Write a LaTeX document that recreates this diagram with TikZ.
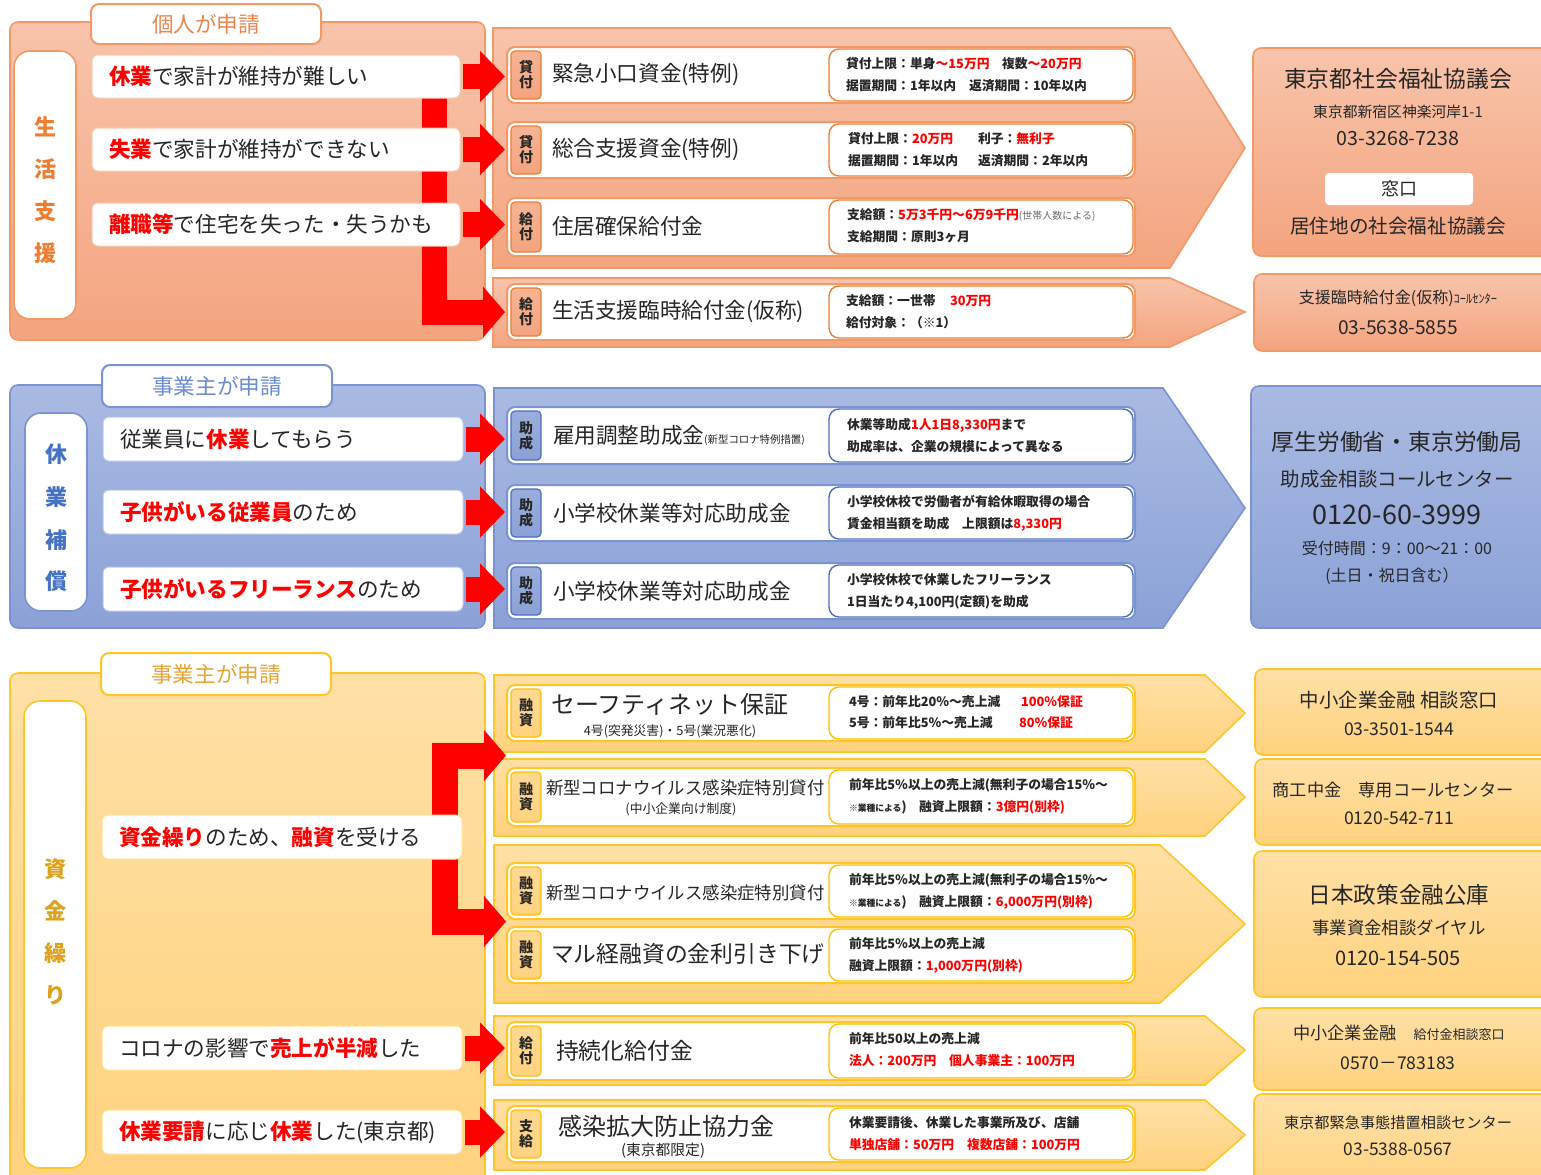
\documentclass[tikz,border=0pt]{standalone}
\usepackage{fontspec}
\setmainfont{Noto Sans CJK JP}
\usetikzlibrary{arrows.meta,fit}
\definecolor{tx}{HTML}{262626}
\definecolor{rd}{HTML}{FF0000}
\definecolor{gy}{HTML}{6B6B6B}
\definecolor{oTop}{HTML}{F8C4AB}
\definecolor{oBot}{HTML}{F4A47F}
\definecolor{oLine}{HTML}{F19A68}
\definecolor{oDark}{HTML}{ED7D31}
\definecolor{oText}{HTML}{E8864F}
\definecolor{bTop}{HTML}{AABAE2}
\definecolor{bBot}{HTML}{8BA1D7}
\definecolor{bLine}{HTML}{7B94D0}
\definecolor{bDark}{HTML}{4A6FBF}
\definecolor{bText}{HTML}{6A8CCF}
\definecolor{bVert}{HTML}{4472C4}
\definecolor{yTop}{HTML}{FFE0A6}
\definecolor{yBot}{HTML}{FFD27E}
\definecolor{yLine}{HTML}{FFC62A}
\definecolor{yDark}{HTML}{FFC000}
\definecolor{yText}{HTML}{E6A437}
\definecolor{yVert}{HTML}{DDA21C}
\newcommand\fsz[1]{\fontsize{#1pt}{#1pt}\selectfont}
\newcommand\mkbox[6]{\node[fit={(#3,#4)(#5,#6)},#2] (#1) {};}
\newcommand\redt[1]{\textcolor{rd}{#1}}
\newcommand\mkitem[5]{%
  \mkbox{#1}{itembox=#2}{507}{#3}{1135}{#4}%
  \mkbox{#1b}{badge=#2}{511}{#3+4}{541}{#4-4}%
  \node[bdgtxt] (#1bt) at (#1b.center) {#5};%
  \mkbox{#1d}{detbox=#2}{829}{#3+2}{1133}{#4-2}}
\tikzset{
  every node/.style={inner sep=0pt,outer sep=0pt},
  panel/.style={draw=#1Line,line width=0.8pt,rounded corners=4pt,top color=#1Top,bottom color=#1Bot},
  chev/.style={draw=#1Line,line width=0.8pt,top color=#1Top,bottom color=#1Bot},
  tab/.style={draw=#1Line,line width=1pt,fill=white,rounded corners=4pt},
  vbox/.style={draw=#1Line,line width=0.8pt,fill=white,rounded corners=8pt},
  rowbox/.style={draw=#1Line!50,line width=0.5pt,fill=white,rounded corners=3pt},
  itembox/.style={draw=#1Line,line width=1pt,fill=white,rounded corners=4pt},
  badge/.style={draw=#1Dark,line width=0.6pt,top color=#1Top!50!#1Bot,bottom color=#1Bot,rounded corners=2pt},
  detbox/.style={draw=#1Dark,line width=0.7pt,fill=white,rounded corners=5pt},
  wbox/.style={fill=white,rounded corners=2pt},
  rowtxt/.style={anchor=west,text=tx,font=\fsz{10.8}},
  ttl/.style={anchor=west,text=tx,font=\fsz{10.8}},
  det/.style={anchor=west,text=tx,font=\fsz{6.4}\bfseries},
  bdgtxt/.style={text=tx,font=\fontsize{7pt}{7.6pt}\selectfont\bfseries,align=center},
  vch/.style={font=\fsz{11}\bfseries,text=#1},
  tabtxt/.style={font=\fsz{10.8},text=#1},
  ctr/.style={text=tx,font=\fsz{#1}},
  redarrow/.style={draw=rd,line width=12.5pt,-{Triangle[length=12.5pt,width=25pt]},shorten <=1.5pt,shorten >=1pt},
  redconn/.style={draw=rd,line width=12.5pt,line join=miter,-{Triangle[length=11pt,width=25pt]}},
}
\begin{document}
\begin{tikzpicture}[x=0.5pt,y=-0.5pt]
\useasboundingbox (0,0) rectangle (1541,1174);
\clip (0,0) rectangle (1541,1174);
\fill[white] (0,0) rectangle (1541,1174);

% ================= section 1 =================
\mkbox{pA}{panel=o}{10}{22}{485}{340}
\mkbox{tabA}{tab=o}{91}{4}{321}{44}
\node[tabtxt=oText] (tabAt) at (tabA.center) {個人が申請};
\mkbox{vA}{vbox=o}{14}{51}{76}{319}
\node[vch=oDark] (vA1) at (45,127) {生};
\node[vch=oDark] (vA2) at (45,169) {活};
\node[vch=oDark] (vA3) at (45,211) {支};
\node[vch=oDark] (vA4) at (45,253) {援};

\path[chev=o] (493,28) -- (1170,28) -- (1245,148) -- (1170,268) -- (493,268) -- cycle;
\path[chev=o] (493,278) -- (1170,278) -- (1245,312) -- (1170,347) -- (493,347) -- cycle;

\mkitem{iA1}{o}{47}{103}{貸\\付}
\mkitem{iA2}{o}{122}{178}{貸\\付}
\mkitem{iA3}{o}{198}{256}{給\\付}
\mkitem{iA4}{o}{284}{340}{給\\付}
\node[ttl] (tA1) at (552,75) {緊急小口資金(特例)};
\node[ttl] (tA2) at (552,150) {総合支援資金(特例)};
\node[ttl] (tA3) at (552,226) {住居確保給付金};
\node[ttl] (tA4) at (552,312) {生活支援臨時給付金(仮称)};
\node[det] (dA1a) at (846,64) {貸付上限：単身\redt{～15万円}};
\node[det] (dA1b) at (1002,64) {複数\redt{～20万円}};
\node[det] (dA1c) at (846,86) {据置期間：1年以内};
\node[det] (dA1d) at (969,86) {返済期間：10年以内};
\node[det] (dA2a) at (848,139) {貸付上限：\redt{20万円}};
\node[det] (dA2b) at (978,139) {利子：\redt{無利子}};
\node[det] (dA2c) at (848,161) {据置期間：1年以内};
\node[det] (dA2d) at (978,161) {返済期間：2年以内};
\node[det] (dA3a) at (847,215) {支給額：\redt{5万3千円～6万9千円}{\fsz{5}\mdseries\color{gy}(世帯人数による)}};
\node[det] (dA3b) at (847,237) {支給期間：原則3ヶ月};
\node[det] (dA4a) at (846,301) {支給額：一世帯};
\node[det] (dA4b) at (950,301) {\redt{30万円}};
\node[det] (dA4c) at (846,323) {給付対象：（※1）};

\mkbox{kA}{panel=o}{1253}{48}{1560}{256}
\node[ctr=11.4] (kA1) at (1398,79) {東京都社会福祉協議会};
\node[ctr=7.4] (kA2) at (1398,112) {東京都新宿区神楽河岸1-1};
\node[ctr=9.8] (kA3) at (1398,139) {03-3268-7238};
\mkbox{kAw}{wbox}{1325}{173}{1473}{205}
\node[ctr=9] (kAw1) at (kAw.center) {窓口};
\node[ctr=9.8] (kA4) at (1398,226) {居住地の社会福祉協議会};
\mkbox{kB}{panel=o}{1254}{274}{1560}{351}
\node[ctr=8] (kB1) at (1398,298) {支援臨時給付金(仮称){\fsz{6.2}ｺｰﾙｾﾝﾀｰ}};
\node[ctr=9.6] (kB2) at (1398,328) {03-5638-5855};

% ================= section 2 =================
\mkbox{pB}{panel=b}{10}{385}{485}{628}
\mkbox{tabB}{tab=b}{102}{365}{332}{407}
\node[tabtxt=bText] (tabBt) at (tabB.center) {事業主が申請};
\mkbox{vB}{vbox=b}{25}{413}{87}{611}
\node[vch=bVert] (vB1) at (56,454) {休};
\node[vch=bVert] (vB2) at (56,497) {業};
\node[vch=bVert] (vB3) at (56,540) {補};
\node[vch=bVert] (vB4) at (56,581) {償};

\path[chev=b] (494,388) -- (1163,388) -- (1245,508) -- (1163,628) -- (494,628) -- cycle;

\mkitem{iB1}{b}{407}{464}{助\\成}
\mkitem{iB2}{b}{485}{541}{助\\成}
\mkitem{iB3}{b}{563}{619}{助\\成}
\node[ttl] (tB1) at (553,435) {雇用調整助成金{\fsz{5.2}(新型コロナ特例措置)}};
\node[ttl] (tB2) at (553,513) {小学校休業等対応助成金};
\node[ttl] (tB3) at (553,591) {小学校休業等対応助成金};
\node[det] (dB1a) at (847,425) {休業等助成\redt{1人1日8,330円}まで};
\node[det] (dB1b) at (847,447) {助成率は、企業の規模によって異なる};
\node[det] (dB2a) at (847,502) {小学校休校で労働者が有給休暇取得の場合};
\node[det] (dB2b) at (847,524) {賃金相当額を助成　上限額は\redt{8,330円}};
\node[det] (dB3a) at (847,580) {小学校休校で休業したフリーランス};
\node[det] (dB3b) at (847,602) {1日当たり4,100円(定額)を助成};

\mkbox{kC}{panel=b}{1251}{386}{1560}{628}
\node[ctr=11.4] (kC1) at (1397,442) {厚生労働省・東京労働局};
\node[ctr=9.7] (kC2) at (1397,479) {助成金相談コールセンター};
\node[ctr=13.5] (kC3) at (1397,515) {0120-60-3999};
\node[ctr=8] (kC4) at (1397,548) {受付時間：9：00～21：00};
\node[ctr=8] (kC5) at (1392,576) {(土日・祝日含む）};

% ================= section 3 =================
\mkbox{pC}{panel=y}{10}{673}{485}{1195}
\mkbox{tabC}{tab=y}{101}{653}{331}{695}
\node[tabtxt=yText] (tabCt) at (tabC.center) {事業主が申請};
\mkbox{vC}{vbox=y}{24}{701}{86}{1168}
\node[vch=yVert] (vC1) at (55,869) {資};
\node[vch=yVert] (vC2) at (55,911) {金};
\node[vch=yVert] (vC3) at (55,953) {繰};
\node[vch=yVert] (vC4) at (55,995) {り};

\path[chev=y] (494,675) -- (1205,675) -- (1245,713) -- (1205,752) -- (494,752) -- cycle;
\path[chev=y] (494,759) -- (1205,759) -- (1245,797) -- (1205,836) -- (494,836) -- cycle;
\path[chev=y] (494,845) -- (1160,845) -- (1245,924) -- (1160,1003) -- (494,1003) -- cycle;
\path[chev=y] (494,1016) -- (1205,1016) -- (1245,1050) -- (1205,1085) -- (494,1085) -- cycle;
\path[chev=y] (494,1100) -- (1205,1100) -- (1245,1135) -- (1205,1170) -- (494,1170) -- cycle;

\mkitem{iC1}{y}{685}{741}{融\\資}
\mkitem{iC2}{y}{768}{826}{融\\資}
\mkitem{iC3}{y}{863}{919}{融\\資}
\mkitem{iC4}{y}{927}{983}{融\\資}
\mkitem{iC5}{y}{1022}{1080}{給\\付}
\mkitem{iC6}{y}{1106}{1162}{支\\給}
\node[ttl,font=\fsz{12}] (tC1) at (551,704) {セーフティネット保証};
\node[ctr=6.4] (tC1s) at (670,731) {4号(突発災害)・5号(業況悪化)};
\node[ttl,font=\fsz{8.7}] (tC2) at (546,788) {新型コロナウイルス感染症特別貸付};
\node[ctr=6.4] (tC2s) at (681,809) {(中小企業向け制度)};
\node[ttl,font=\fsz{8.7}] (tC3) at (546,893) {新型コロナウイルス感染症特別貸付};
\node[ttl,font=\fsz{11.4}] (tC4) at (551,954) {マル経融資の金利引き下げ};
\node[ttl,font=\fsz{11.4}] (tC5) at (556,1051) {持続化給付金};
\node[ttl,font=\fsz{12}] (tC6) at (558,1126) {感染拡大防止協力金};
\node[ctr=7.4] (tC6s) at (663,1151) {(東京都限定)};

\node[det] (dC1a) at (849,702) {4号：前年比20％～売上減};
\node[det] (dC1b) at (1021,702) {\redt{100％保証}};
\node[det] (dC1c) at (849,723) {5号：前年比5％～売上減};
\node[det] (dC1d) at (1019,723) {\redt{80％保証}};
\node[det] (dC2a) at (849,785) {前年比5％以上の売上減(無利子の場合15％～};
\node[det] (dC2b) at (849,807) {{\fsz{4.4}※業種による})};
\node[det] (dC2c) at (919,807) {融資上限額：\redt{3億円(別枠)}};
\node[det] (dC3a) at (849,880) {前年比5％以上の売上減(無利子の場合15％～};
\node[det] (dC3b) at (849,902) {{\fsz{4.4}※業種による})};
\node[det] (dC3c) at (919,902) {融資上限額：\redt{6,000万円(別枠)}};
\node[det] (dC4a) at (849,944) {前年比5％以上の売上減};
\node[det] (dC4b) at (849,966) {融資上限額：\redt{1,000万円(別枠)}};
\node[det] (dC5a) at (849,1039) {前年比50以上の売上減};
\node[det] (dC5b) at (849,1061) {\redt{法人：200万円　個人事業主：100万円}};
\node[det] (dC6a) at (849,1123) {休業要請後、休業した事業所及び、店舗};
\node[det] (dC6b) at (849,1145) {\redt{単独店舗：50万円　複数店舗：100万円}};

\mkbox{kE}{panel=y}{1255}{669}{1560}{755}
\node[ctr=9.7] (kE1) at (1399,700) {中小企業金融\ 相談窓口};
\node[ctr=8.8] (kE2) at (1399,729) {03-3501-1544};
\mkbox{kF}{panel=y}{1255}{759}{1560}{845}
\node[ctr=8.6] (kF1) at (1393,790) {商工中金　専用コールセンター};
\node[ctr=8.8] (kF2) at (1399,818) {0120-542-711};
\mkbox{kG}{panel=y}{1254}{851}{1560}{997}
\node[ctr=11.3] (kG1) at (1399,895) {日本政策金融公庫};
\node[ctr=8.7] (kG2) at (1399,928) {事業資金相談ダイヤル};
\node[ctr=10] (kG3) at (1398,958) {0120-154-505};
\mkbox{kH}{panel=y}{1254}{1008}{1560}{1090}
\node[ctr=8.6] (kH1) at (1399,1033) {中小企業金融\quad{\fsz{6.5}給付金相談窓口}};
\node[ctr=8.8] (kH2) at (1398,1063) {0570－783183};
\mkbox{kI}{panel=y}{1254}{1094}{1560}{1200}
\node[ctr=7.6] (kI1) at (1398,1123) {東京都緊急事態措置相談センター};
\node[ctr=8.7] (kI2) at (1398,1149) {03-5388-0567};

% ================= red connectors (behind row boxes) =================
\coordinate (sA) at (434.5,90);
\draw[redconn,shorten >=1pt] (sA) |- (iA4.west);
\coordinate (tipC1) at (506,755.5);
\coordinate (tipC2) at (506,921.5);
\coordinate (jC) at (445,837);
\draw[redconn,line width=13pt,{Triangle[length=11pt,width=25pt]}-{Triangle[length=11pt,width=25pt]}] (tipC1) -| (jC) |- (tipC2);

% ================= row boxes =================
\mkbox{rA1}{rowbox=o}{92}{55}{460}{98}
\mkbox{rA2}{rowbox=o}{92}{128}{460}{171}
\mkbox{rA3}{rowbox=o}{92}{203}{460}{246}
\node[rowtxt] (rA1t) at (109,76.5) {\redt{\bfseries 休業}で家計が維持が難しい};
\node[rowtxt] (rA2t) at (109,149.5) {\redt{\bfseries 失業}で家計が維持ができない};
\node[rowtxt] (rA3t) at (109,224.5) {\redt{\bfseries 離職等}で住宅を失った・失うかも};

\mkbox{rB1}{rowbox=b}{103}{417}{463}{461}
\mkbox{rB2}{rowbox=b}{103}{490}{463}{534}
\mkbox{rB3}{rowbox=b}{103}{567}{463}{611}
\node[rowtxt] (rB1t) at (120,439) {従業員に\redt{\bfseries 休業}してもらう};
\node[rowtxt] (rB2t) at (120,512) {\redt{\bfseries 子供がいる従業員}のため};
\node[rowtxt] (rB3t) at (120,589) {\redt{\bfseries 子供がいるフリーランス}のため};

\mkbox{rC1}{rowbox=y}{102}{815}{462}{859}
\mkbox{rC2}{rowbox=y}{102}{1026}{462}{1070}
\mkbox{rC3}{rowbox=y}{102}{1110}{462}{1154}
\node[rowtxt] (rC1t) at (119,837) {\redt{\bfseries 資金繰り}のため、\redt{\bfseries 融資}を受ける};
\node[rowtxt] (rC2t) at (119,1048) {コロナの影響で\redt{\bfseries 売上が半減}した};
\node[rowtxt] (rC3t) at (119,1132) {\redt{\bfseries 休業要請}に応じ\redt{\bfseries 休業}した(東京都)};

% ================= short red arrows =================
\draw[redarrow] (rA1.east) -- (rA1.east -| iA1.west);
\draw[redarrow] (rA2.east) -- (rA2.east -| iA2.west);
\draw[redarrow] (rA3.east) -- (rA3.east -| iA3.west);
\draw[redarrow] (rB1.east) -- (rB1.east -| iB1.west);
\draw[redarrow] (rB2.east) -- (rB2.east -| iB2.west);
\draw[redarrow] (rB3.east) -- (rB3.east -| iB3.west);
\draw[redarrow] (rC2.east) -- (rC2.east -| iC5.west);
\draw[redarrow] (rC3.east) -- (rC3.east -| iC6.west);
\end{tikzpicture}
\end{document}
